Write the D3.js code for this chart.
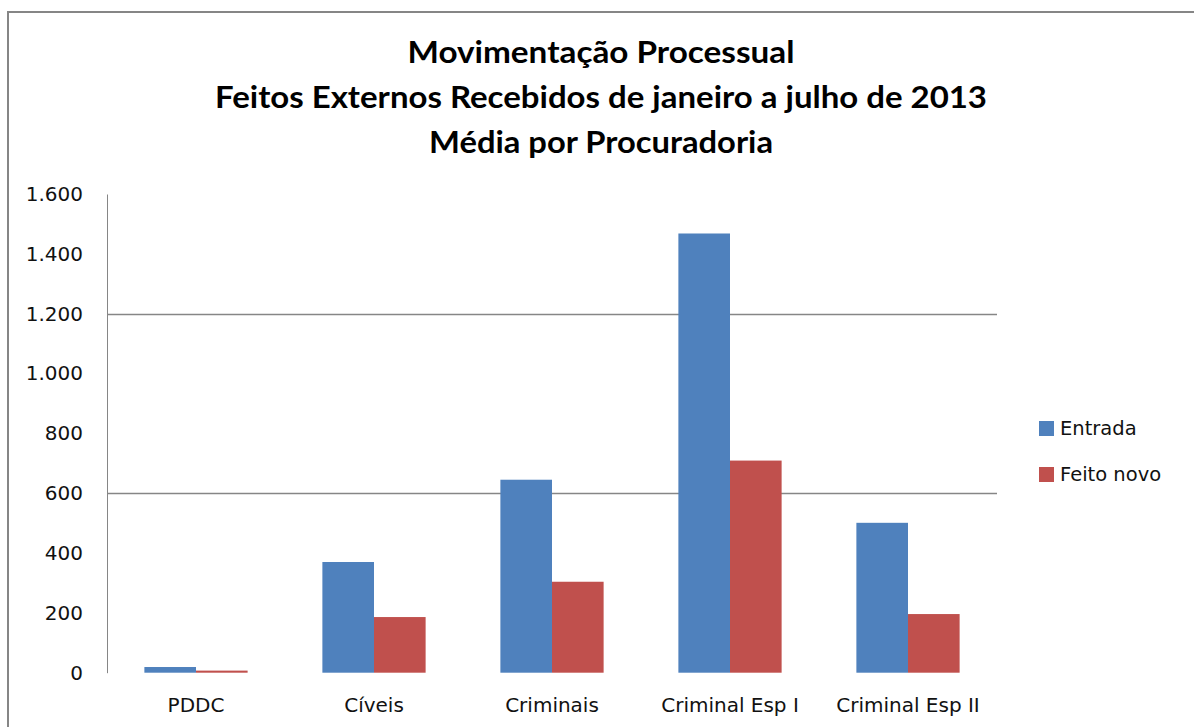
<!DOCTYPE html>
<html>
<head>
<meta charset="utf-8">
<script src="https://cdn.jsdelivr.net/npm/d3@7"></script>
<style>
  body { margin: 0; background: #fff; }
  svg { display: block; }
</style>
</head>
<body>
<div id="chart"></div>
<script>
// data
let categories = ['PDDC', 'Cíveis', 'Criminais', 'Criminal Esp I', 'Criminal Esp II'];
let seriesNames = ['Entrada', 'Feito novo'];
let entrada = [19, 370, 645, 1468, 501];
let feitoNovo = [7, 186, 304, 709, 196];
let yTicks = [0, 200, 400, 600, 800, 1000, 1200, 1400, 1600];
let gridValues = [600, 1200];
let titleLines = ['Movimentação Processual', 'Feitos Externos Recebidos de janeiro a julho de 2013', 'Média por Procuradoria'];

let colors = ['#4f81bd', '#c0504d'];

let width = 1194, height = 727;
let margin = {top: 194, bottom: 54.3, left: 107, right: 197};

let svg = d3.select('#chart').append('svg').attr('width', width).attr('height', height);

// outer frame, runs off the right and bottom
svg.append('rect')
  .attr('x', 8).attr('y', 12)
  .attr('width', 1300).attr('height', 800)
  .attr('fill', 'none').attr('stroke', '#868686').attr('stroke-width', 2);

// title
let titleWidths = [387, 772, 344];
svg.append('g').selectAll('text').data(titleLines).enter().append('text')
  .attr('x', 601)
  .attr('y', (d, i) => 63 + i * 45)
  .attr('text-anchor', 'middle')
  .attr('textLength', (d, i) => titleWidths[i])
  .attr('lengthAdjust', 'spacingAndGlyphs')
  .style('font-family', 'Lato, "Open Sans", sans-serif')
  .style('font-weight', 'bold')
  .style('font-size', '31px')
  .attr('fill', '#000')
  .text(d => d);

let plotW = width - margin.left - margin.right;
let plotH = height - margin.top - margin.bottom;

let rows = categories.map((c, i) => ({cat: c, values: [entrada[i], feitoNovo[i]]}));

let x0 = d3.scaleBand().domain(categories).range([0, plotW]).paddingInner(0.42).paddingOuter(0.21);
let x1 = d3.scaleBand().domain(seriesNames).range([0, x0.bandwidth()]);
let y = d3.scaleLinear().domain([0, 1600]).range([plotH, 0]);

let ptBR = d3.formatLocale({decimal: ',', thousands: '.', grouping: [3], currency: ['R$', '']});
let fmt = ptBR.format(',d');

let g = svg.append('g').attr('transform', 'translate(' + [margin.left, margin.top] + ')');

// gridlines (only two show in the original)
g.selectAll('.grid').data(gridValues).enter().append('line')
  .attr('class', 'grid')
  .attr('x1', 0).attr('x2', plotW)
  .attr('y1', d => Math.round(y(d)) + 0.5).attr('y2', d => Math.round(y(d)) + 0.5)
  .attr('stroke', '#868686').attr('stroke-width', 1.3);

// bars
let groups = g.selectAll('.cat').data(rows).enter().append('g').attr('class', 'cat')
  .attr('transform', d => 'translate(' + [x0(d.cat), 0] + ')');

groups.selectAll('rect').data(d => d.values.map((v, i) => ({name: seriesNames[i], value: v, i: i})))
  .enter().append('rect')
  .attr('x', d => x1(d.name))
  .attr('y', d => y(d.value))
  .attr('width', x1.bandwidth())
  .attr('height', d => plotH - y(d.value))
  .attr('fill', d => colors[d.i]);

// y axis
let yAxis = d3.axisLeft(y).tickValues(yTicks).tickFormat(fmt).tickSize(0).tickPadding(24);
let yg = g.append('g').call(yAxis);
yg.select('.domain').attr('stroke', '#868686').attr('stroke-width', 1);
yg.selectAll('text')
  .style('font-family', '"DejaVu Sans", sans-serif')
  .style('font-size', '20px')
  .attr('fill', '#111');

// x labels
let xAxis = d3.axisBottom(x0).tickSize(0).tickPadding(25);
let xg = g.append('g').attr('transform', 'translate(0,' + plotH + ')').call(xAxis);
xg.select('.domain').remove();
xg.selectAll('text')
  .style('font-family', '"DejaVu Sans", sans-serif')
  .style('font-size', '20px')
  .attr('fill', '#111');

// legend
let legend = svg.append('g').attr('transform', 'translate(1039,421)');
let items = legend.selectAll('.item').data(seriesNames).enter().append('g').attr('class', 'item')
  .attr('transform', (d, i) => 'translate(0,' + i * 46 + ')');
items.append('rect').attr('width', 15).attr('height', 15).attr('fill', (d, i) => colors[i]);
items.append('text')
  .attr('x', 21).attr('y', 7.5).attr('dy', '0.35em')
  .style('font-family', '"DejaVu Sans", sans-serif')
  .style('font-size', '19.5px')
  .attr('fill', '#111')
  .text(d => d);
</script>
</body>
</html>
